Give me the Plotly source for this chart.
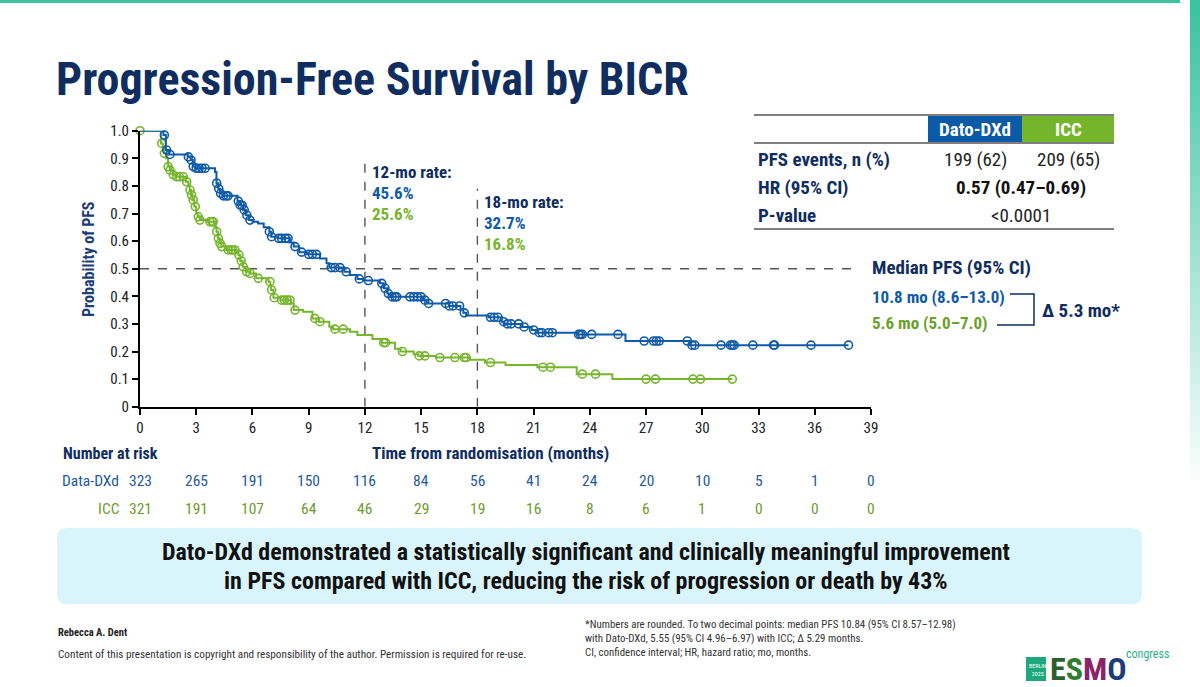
import numpy as np
import plotly.graph_objects as go

W, H = 1200, 687

NARROW = "Liberation Sans Narrow, Arial Narrow, Roboto Condensed, Liberation Sans, Arial"
NAVY = "#0f2d5e"
BLUE = "#0f5ba8"
GREEN = "#76b52d"
RISK_GREEN = "#6e9b31"

# Kaplan-Meier steps: month of drop, survival after it
dato_t = [0, 1.25, 1.38, 1.55, 2.55, 2.7, 2.82, 2.95, 4.0, 4.08, 4.18, 4.27, 4.4,
          5.2, 5.35, 5.5, 5.65, 5.82, 6.0, 6.3, 6.6, 6.9, 7.0, 7.35, 8.0, 8.2,
          8.5, 8.9, 9.6, 9.95, 10.1, 10.9, 11.2, 11.6, 11.9, 12.8, 13.0, 13.2,
          13.35, 15.1, 15.3, 16.5, 17.1, 17.25, 17.4, 18.6, 19.3, 19.45, 20.4,
          20.9, 21.2, 23.3, 25.9, 29.35]
dato_s = [1.0, 0.984, 0.93, 0.914, 0.905, 0.894, 0.87, 0.864, 0.85, 0.81, 0.79,
          0.773, 0.764, 0.745, 0.73, 0.713, 0.694, 0.676, 0.67, 0.664, 0.65,
          0.634, 0.616, 0.61, 0.595, 0.58, 0.56, 0.552, 0.537, 0.52, 0.504,
          0.489, 0.477, 0.463, 0.457, 0.447, 0.429, 0.41, 0.398, 0.386, 0.374,
          0.365, 0.352, 0.34, 0.33, 0.324, 0.308, 0.3, 0.289, 0.278, 0.268,
          0.262, 0.238, 0.223]
dato_end = 37.8
dato_cens = [1.3, 1.42, 1.6, 2.58, 2.72, 2.84, 3.0, 3.15, 3.3, 3.47, 4.09, 4.2,
             4.3, 4.45, 4.6, 4.7, 5.24, 5.35, 5.45, 5.56, 5.7, 5.87, 6.9, 7.02,
             7.4, 7.55, 7.75, 7.9, 8.27, 8.62, 9.0, 9.2, 9.42, 10.2, 10.4, 10.67,
             11.0, 11.7, 12.18, 12.9, 13.07, 13.25, 13.45, 13.6, 13.7, 14.4, 14.6,
             14.8, 15.0, 15.2, 15.4, 16.3, 16.5, 16.7, 17.05, 17.3, 18.7, 18.9,
             19.1, 19.4, 19.6, 19.8, 20.2, 20.5, 21.0, 21.3, 21.45, 21.8, 22.0,
             23.4, 23.5, 23.6, 24.1, 25.5, 26.9, 27.4, 27.55, 27.7, 29.2, 29.45,
             29.6, 31.0, 31.5, 31.6, 31.7, 32.7, 33.8, 33.85, 35.8, 37.8]

icc_t = [0, 1.12, 1.22, 1.3, 1.4, 1.5, 1.6, 1.75, 1.9, 2.45, 2.58, 2.65, 2.72,
         2.8, 2.9, 3.0, 3.08, 3.2, 3.6, 3.98, 4.08, 4.16, 4.25, 4.34, 4.6, 5.15,
         5.25, 5.35, 5.48, 5.65, 5.85, 6.2, 6.85, 6.95, 7.0, 7.12, 7.5, 8.05,
         8.2, 8.7, 9.2, 9.55, 10.1, 10.3, 11.2, 11.6, 12.4, 12.9, 13.6, 13.9,
         14.6, 14.85, 15.8, 17.6, 18.4, 19.5, 21.2, 23.3, 25.2]
icc_s = [1.0, 0.954, 0.936, 0.918, 0.9, 0.87, 0.857, 0.84, 0.833, 0.815, 0.803,
         0.785, 0.767, 0.749, 0.725, 0.70, 0.688, 0.676, 0.67, 0.652, 0.634,
         0.61, 0.592, 0.58, 0.568, 0.56, 0.55, 0.528, 0.507, 0.489, 0.483,
         0.465, 0.453, 0.44, 0.423, 0.395, 0.386, 0.374, 0.35, 0.344, 0.32,
         0.308, 0.29, 0.281, 0.272, 0.26, 0.245, 0.232, 0.21, 0.2, 0.19, 0.184,
         0.178, 0.17, 0.16, 0.151, 0.143, 0.118, 0.1]
icc_end = 31.6
icc_cens = [0, 1.16, 1.3, 1.5, 1.6, 1.78, 1.96, 2.1, 2.31, 2.49, 2.67, 2.75, 2.84,
            2.95, 3.11, 3.2, 3.73, 3.85, 3.91, 4.09, 4.18, 4.27, 4.36, 4.71, 4.85,
            4.95, 5.07, 5.28, 5.4, 5.51, 5.69, 5.87, 6.31, 6.93, 7.02, 7.16, 7.56,
            7.7, 7.85, 8.0, 8.27, 9.33, 9.6, 10.4, 10.84, 13.0, 13.1, 14.0, 14.9,
            15.2, 16.0, 16.8, 17.3, 17.4, 18.7, 21.5, 21.9, 23.6, 24.3, 27.0,
            27.5, 29.5, 29.9, 31.6]

risk_months = list(range(0, 40, 3))
dato_risk = [323, 265, 191, 150, 116, 84, 56, 41, 24, 20, 10, 5, 1, 0]
icc_risk = [321, 191, 107, 64, 46, 29, 19, 16, 8, 6, 1, 0, 0, 0]

y_ticks = [0, 0.1, 0.2, 0.3, 0.4, 0.5, 0.6, 0.7, 0.8, 0.9, 1.0]
y_labels = ["0", "0.1", "0.2", "0.3", "0.4", "0.5", "0.6", "0.7", "0.8", "0.9", "1.0"]

landmarks = [12, 18]
landmark_rates = {12: ("45.6%", "25.6%"), 18: ("32.7%", "16.8%")}


def surv_at(times, surv, t):
    i = np.searchsorted(times, t, side="right") - 1
    return surv[i]


def fx(x):
    return x / W


def fy(y):
    return 1 - y / H


fig = go.Figure()

# landmark guide lines
fig.add_trace(go.Scatter(x=[0, 38], y=[0.5, 0.5], mode="lines",
                         line=dict(color="#555555", width=1.4, dash="dash"),
                         hoverinfo="skip", showlegend=False))
for m, top in zip(landmarks, [0.9, 0.79]):
    fig.add_trace(go.Scatter(x=[m, m], y=[0, top], mode="lines",
                             line=dict(color="#555555", width=1.4, dash="dash"),
                             hoverinfo="skip", showlegend=False))

for times, surv, end, cens, col, name in [
        (icc_t, icc_s, icc_end, icc_cens, GREEN, "ICC"),
        (dato_t, dato_s, dato_end, dato_cens, BLUE, "Dato-DXd")]:
    fig.add_trace(go.Scatter(x=times + [end], y=surv + [surv[-1]], mode="lines",
                             line=dict(color=col, width=2, shape="hv"),
                             name=name, showlegend=False, cliponaxis=False))
    fig.add_trace(go.Scatter(x=cens, y=[surv_at(times, surv, c) for c in cens],
                             mode="markers",
                             marker=dict(symbol="circle-open", size=8, color=col,
                                         line=dict(width=1.6)),
                             showlegend=False, cliponaxis=False))

fig.update_xaxes(range=[0, 39], domain=[fx(140), fx(871)], tickvals=risk_months,
                 showline=True, linecolor="black", linewidth=2, ticks="outside",
                 ticklen=6, tickwidth=2, tickcolor="black", showgrid=False,
                 zeroline=False, automargin=False,
                 tickfont=dict(size=15, color="#222222", family=NARROW))
fig.update_yaxes(range=[0, 1], domain=[fy(406.7), fy(130.7)], tickvals=y_ticks,
                 ticktext=y_labels, showline=True, linecolor="black", linewidth=2,
                 ticks="outside", ticklen=6, tickwidth=2, tickcolor="black",
                 showgrid=False, zeroline=False, automargin=False,
                 tickfont=dict(size=15, color="#222222", family=NARROW))


def ann(text, x, y, size, color, bold=False, xanchor="left", family=NARROW, **kw):
    fig.add_annotation(x=fx(x), y=fy(y), xref="paper", yref="paper",
                       text=f"<b>{text}</b>" if bold else text, showarrow=False,
                       xanchor=xanchor, yanchor="middle",
                       font=dict(size=size, color=color, family=family), **kw)


ann("Progression-Free Survival by BICR", 54, 79, 46, NAVY, bold=True)
ann("Probability of PFS", 88, 259, 16, "#1b3d78", bold=True, xanchor="center",
    textangle=-90)

# landmark rates
for m, lx, ly in [(12, 370, 172), (18, 482, 202)]:
    ann(f"{m}-mo rate:", lx, ly, 17, NAVY, bold=True)
    ann(landmark_rates[m][0], lx, ly + 21, 17, BLUE, bold=True)
    ann(landmark_rates[m][1], lx, ly + 42, 17, GREEN, bold=True)

# summary table
for yy in [115, 143, 229]:
    fig.add_shape(type="line", xref="paper", yref="paper", x0=fx(754), x1=fx(1114),
                  y0=fy(yy), y1=fy(yy), line=dict(color="#555555", width=1.5))
fig.add_shape(type="rect", xref="paper", yref="paper", x0=fx(928), x1=fx(1022),
              y0=fy(142), y1=fy(116), fillcolor="#0b5aa6", line_width=0)
fig.add_shape(type="rect", xref="paper", yref="paper", x0=fx(1022), x1=fx(1114),
              y0=fy(142), y1=fy(116), fillcolor="#74b52c", line_width=0)
ann("Dato-DXd", 975, 129, 19, "white", bold=True, xanchor="center")
ann("ICC", 1068, 129, 19, "white", bold=True, xanchor="center")
ann("PFS events, n (%)", 756, 159, 19, NAVY, bold=True)
ann("199 (62)", 975, 159, 19, "#222222", xanchor="center")
ann("209 (65)", 1068, 159, 19, "#222222", xanchor="center")
ann("HR (95% CI)", 756, 187, 19, NAVY, bold=True)
ann("0.57 (0.47–0.69)", 1021, 187, 19, "#111111", bold=True, xanchor="center")
ann("P-value", 756, 215, 19, NAVY, bold=True)
ann("<0.0001", 1021, 215, 19, "#222222", xanchor="center")

# median PFS
ann("Median PFS (95% CI)", 870, 268, 19, NAVY, bold=True)
ann("10.8 mo (8.6–13.0)", 870, 297, 17, BLUE, bold=True)
ann("5.6 mo (5.0–7.0)", 870, 323, 17, "#6aa12a", bold=True)
fig.add_shape(type="path", xref="paper", yref="paper",
              path=f"M {fx(1010)} {fy(294)} L {fx(1034)} {fy(294)} "
                   f"L {fx(1034)} {fy(325)} L {fx(997)} {fy(325)}",
              line=dict(color=NAVY, width=1.5))
ann("Δ 5.3 mo*", 1040, 310, 19, NAVY, bold=True)

# number at risk
ann("Number at risk", 61, 453, 16, NAVY, bold=True)
ann("Time from randomisation (months)", 490, 453, 17, NAVY, bold=True,
    xanchor="center")
ann("Data-DXd", 121, 481, 15.5, "#1f5a9e", xanchor="right")
ann("ICC", 122, 509, 15.5, RISK_GREEN, xanchor="right")
for m, d, c in zip(risk_months, dato_risk, icc_risk):
    fig.add_annotation(x=m, xref="x", y=fy(481), yref="paper", yanchor="middle",
                       text=str(d), showarrow=False,
                       font=dict(size=15.5, color="#1f5a9e", family=NARROW))
    fig.add_annotation(x=m, xref="x", y=fy(509), yref="paper", yanchor="middle",
                       text=str(c), showarrow=False,
                       font=dict(size=15.5, color=RISK_GREEN, family=NARROW))

# key message box
fig.add_shape(type="path", xref="paper", yref="paper",
              path=f"M {fx(67)} {fy(528)} L {fx(1132)} {fy(528)} "
                   f"Q {fx(1142)} {fy(528)} {fx(1142)} {fy(538)} "
                   f"L {fx(1142)} {fy(594)} Q {fx(1142)} {fy(604)} {fx(1132)} {fy(604)} "
                   f"L {fx(67)} {fy(604)} Q {fx(57)} {fy(604)} {fx(57)} {fy(594)} "
                   f"L {fx(57)} {fy(538)} Q {fx(57)} {fy(528)} {fx(67)} {fy(528)} Z",
              fillcolor="#d9f5fb", line_width=0, layer="below")
ann("Dato-DXd demonstrated a statistically significant and clinically meaningful improvement",
    586, 552, 24, "#111111", bold=True, xanchor="center")
ann("in PFS compared with ICC, reducing the risk of progression or death by 43%",
    586, 581, 24, "#111111", bold=True, xanchor="center")

# footer
ann("Rebecca A. Dent", 56, 632, 10.5, "#222222", bold=True)
ann("Content of this presentation is copyright and responsibility of the author. "
    "Permission is required for re-use.", 56, 654, 11.2, "#333333")
ann("*Numbers are rounded. To two decimal points: median PFS 10.84 (95% CI 8.57–12.98)",
    583, 624, 10.9, "#333333")
ann("with Dato-DXd, 5.55 (95% CI 4.96–6.97) with ICC; Δ 5.29 months.", 583, 638, 10.9,
    "#333333")
ann("CI, confidence interval; HR, hazard ratio; mo, months.", 583, 652, 10.9, "#333333")

# ESMO logo
fig.add_shape(type="rect", xref="paper", yref="paper", x0=fx(1026), x1=fx(1046),
              y0=fy(681), y1=fy(657), fillcolor="#1ea97c", line_width=0)
ann("BERLIN<br>2025", 1027, 669, 6, "white")
ann('<span style="color:#2d5f2e">E</span><span style="color:#2e7d32">S</span>'
    '<span style="color:#8a2466">M</span><span style="color:#1f3c7a">O</span>',
    1048, 669, 32, "#2d5f2e", bold=True)
ann("congress", 1124, 654, 12, "#27b08a")

# slide decoration: top rule and right gradient bar
fig.add_shape(type="rect", xref="paper", yref="paper", x0=0, x1=fx(1180),
              y0=fy(3), y1=1, fillcolor="#3cc3a0", line_width=0)
top_rgb = np.array([60, 195, 160])
for i in range(30):
    mix = i / 30
    r, g, b = (top_rgb * (1 - mix) + np.array([255, 255, 255]) * mix).astype(int)
    fig.add_shape(type="rect", xref="paper", yref="paper", x0=fx(1190), x1=1,
                  y0=fy(i * 16 + 16), y1=fy(i * 16), fillcolor=f"rgb({r},{g},{b})",
                  line_width=0)

fig.update_layout(width=W, height=H, margin=dict(l=0, r=0, t=0, b=0),
                  plot_bgcolor="white", paper_bgcolor="white", showlegend=False,
                  font=dict(family=NARROW))

fig.write_html("out.html", config={"displayModeBar": False},
               post_script="document.body.style.margin='0px';")
